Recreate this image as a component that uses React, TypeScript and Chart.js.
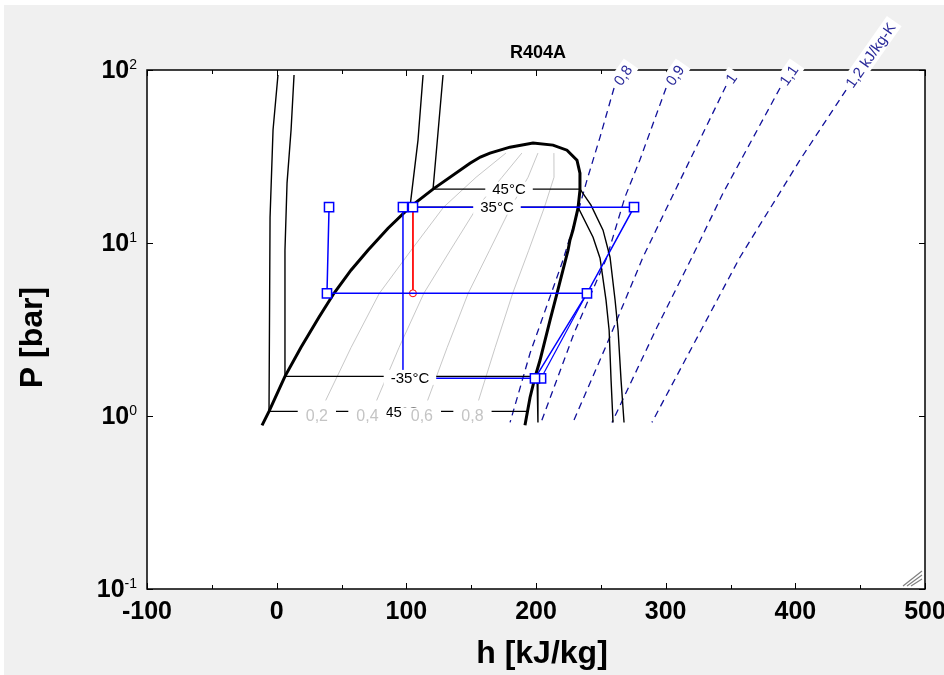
import { useEffect, useRef } from "react";
import { Chart, registerables } from "chart.js";

Chart.register(...registerables);

// ---------- data (h in kJ/kg, P in bar) ----------
const domeH = [-11.3, -5.9, 6.4, 18.8, 32.6, 44.2, 57.3, 70.4, 85.9, 102.8, 120.6, 149.1, 157.1, 164.5, 179.9, 197.7, 213.1, 223.9, 231.6, 233.9, 233.9, 232.4, 228.5, 226.2, 224.7, 216.2, 210.8, 203.1, 199.2, 195.4, 191.5];
const domeP = [0.883, 1.063, 1.695, 2.5, 3.72, 5.12, 6.96, 9.085, 12.18, 16.12, 20.48, 28.9, 31.4, 33.1, 35.8, 37.8, 36.8, 34.4, 30.1, 25.3, 20.2, 15.9, 11.86, 10.4, 9.08, 5.12, 3.57, 2.1, 1.67, 1.28, 0.883];

const tM45H = [1.0, -2.8, -5.1, -5.9, 193.3];
const tM45P = [93.6, 45.0, 14.1, 1.063, 1.063];
const tM35H = [13.4, 11.1, 8.0, 6.4, 6.4, 200.8, 201.5];
const tM35P = [93.6, 45.0, 22.2, 9.09, 1.695, 1.695, 0.918];
const t35H = [112.9, 109.0, 102.8, 232.4, 244.0, 249.4, 254.0, 256.4, 257.9, 259.4];
const t35P = [93.6, 39.35, 16.12, 16.12, 10.8, 8.17, 4.67, 3.13, 1.607, 0.918];
const t45H = [128.3, 124.4, 120.6, 234.0, 242.4, 251.7, 257.1, 261.0, 263.3, 265.6, 267.9];
const t45P = [93.6, 43.2, 20.48, 20.48, 16.55, 11.86, 8.275, 4.667, 3.13, 1.607, 0.918];

const isoLabels = ["-45°C", "-35°C", "35°C", "45°C"];
const isoLabelH = [94.7, 102.8, 169.9, 179.2];
const isoLabelP = [1.063, 1.672, 16.12, 20.48];

const qualityP = [1.23, 2.49, 5.12, 9.08, 16.1, 24, 33.1];
const q2H = [37.8, 57.4, 79.2, 103.7, 128.7, 153.8, 176.8];
const q4H = [77.1, 94.4, 113.5, 133.9, 154.6, 173.8, 189.1];
const q6H = [116.4, 131.5, 147.7, 164.2, 180.6, 193.9, 201.5];
const q8H = [155.7, 168.5, 182.0, 194.4, 206.5, 213.9, 213.8];
const qualityLabels = ["0,2", "0,4", "0,6", "0,8"];
const qualityLabelH = [31, 70, 112, 151];
const qualityLabelP = 1.0;

const s08H = [260.2, 258.6, 249.4, 239.3, 233.9, 226.2, 220.8, 204.4, 195.4, 180.0];
const s08P = [78.7, 71.6, 40.95, 23.1, 16.55, 10.8, 7.95, 3.574, 2.303, 0.918];
const s09H = [300.3, 280.1, 268.6, 254.7, 229.3, 203.9];
const s09P = [78.7, 30.2, 18.4, 8.275, 3.006, 0.918];
const s10H = [346.5, 304.8, 282.5, 254.9, 228.5];
const s10P = [80.8, 18.4, 8.275, 2.631, 0.918];
const s11H = [388.2, 344.2, 320.3, 293.3, 258.6];
const s11P = [78.7, 19.4, 8.275, 3.256, 0.918];
const s12H = [439.1, 403.6, 357.3, 289.4];
const s12P = [76.6, 30.2, 8.275, 0.918];
const entropyLabels = ["0,8", "0,9", "1", "1,1", "1,2 kJ/kg-K"];

const cycleH = [40.4, 38.8, 239.3, 275.6, 105.1, 97.4, 97.4, 199.2, 239.3];
const cycleP = [16.12, 5.12, 5.12, 16.12, 16.12, 16.12, 1.651, 1.651, 5.12];
const cycleMarked = [1, 1, 1, 1, 1, 1, 0, 1, 0];
const cycle2H = [203.9, 239.3];
const cycle2P = [1.651, 5.12];
const redH = [105.1, 105.1];
const redP = [16.12, 5.12];

const xTickValues = [-100, 0, 100, 200, 300, 400, 500];
const xTickLabels = ["-100", "0", "100", "200", "300", "400", "500"];
const yTickValues = [100, 10, 1, 0.1];
const yTickExp = ["2", "1", "0", "-1"];

const chartTitle = "R404A";
const xTitle = "h [kJ/kg]";
const yTitle = "P [bar]";

// ---------- helpers ----------
const FONT = '"Liberation Sans", Arial, Helvetica, sans-serif';
const pts = (hs: number[], ps: number[]) => hs.map((h, i) => ({ x: h, y: ps[i] }));

const lineDs = (hs: number[], ps: number[], color: string, width: number, extra: any = {}) => ({
  data: pts(hs, ps),
  showLine: true,
  borderColor: color,
  borderWidth: width,
  pointRadius: 0,
  fill: false,
  tension: 0,
  ...extra,
});

function boxText(ctx: CanvasRenderingContext2D, text: string, x: number, y: number, font: string, color: string, padX: number, h: number) {
  ctx.font = font;
  const w = ctx.measureText(text).width;
  ctx.fillStyle = "#ffffff";
  ctx.fillRect(x - w / 2 - padX, y - h / 2, w + 2 * padX, h);
  ctx.fillStyle = color;
  ctx.textAlign = "center";
  ctx.textBaseline = "middle";
  ctx.fillText(text, x, y + 1);
}

const overlay = {
  id: "overlay",
  beforeDraw(chart: any) {
    const { ctx, chartArea: a, width, height } = chart;
    ctx.save();
    ctx.fillStyle = "#f0f0f0";
    ctx.fillRect(0, 0, width, height);
    ctx.fillStyle = "#ffffff";
    ctx.fillRect(a.left, a.top, a.right - a.left, a.bottom - a.top);
    ctx.restore();
  },
  afterDatasetsDraw(chart: any) {
    const { ctx, chartArea: a, scales } = chart;
    const xs = scales.x;
    const ys = scales.y;
    ctx.save();

    // isotherm labels (-45 first so quality labels overlay it)
    isoLabels.forEach((t, i) => {
      boxText(ctx, t, xs.getPixelForValue(isoLabelH[i]), ys.getPixelForValue(isoLabelP[i]), `15px ${FONT}`, "#000000", 7, 15);
    });
    qualityLabels.forEach((t, i) => {
      boxText(ctx, t, xs.getPixelForValue(qualityLabelH[i]), ys.getPixelForValue(qualityLabelP), `16px ${FONT}`, "#c4c4c4", 8, 17);
    });

    // frame
    ctx.strokeStyle = "#000000";
    ctx.lineWidth = 1.5;
    ctx.strokeRect(a.left, a.top, a.right - a.left, a.bottom - a.top);

    // ticks
    ctx.lineWidth = 1;
    ctx.beginPath();
    for (let v = -100; v <= 500; v += 50) {
      const px = Math.round(xs.getPixelForValue(v)) + 0.5;
      const len = v % 100 === 0 ? 6 : 4;
      ctx.moveTo(px, a.bottom);
      ctx.lineTo(px, a.bottom - len);
      ctx.moveTo(px, a.top);
      ctx.lineTo(px, a.top + len);
    }
    yTickValues.forEach((v) => {
      const py = Math.round(ys.getPixelForValue(v)) + 0.5;
      ctx.moveTo(a.left, py);
      ctx.lineTo(a.left + 6, py);
      ctx.moveTo(a.right, py);
      ctx.lineTo(a.right - 6, py);
    });
    ctx.stroke();

    // entropy labels (rotated, white boxes)
    const sLines = [
      [s08H, s08P],
      [s09H, s09P],
      [s10H, s10P],
      [s11H, s11P],
      [s12H, s12P],
    ];
    sLines.forEach(([hs, ps], i) => {
      const px = xs.getPixelForValue(hs[0]);
      const py = ys.getPixelForValue(ps[0]);
      ctx.save();
      ctx.translate(px, py);
      ctx.rotate((-55 * Math.PI) / 180);
      ctx.font = `15px ${FONT}`;
      const w = ctx.measureText(entropyLabels[i]).width;
      ctx.fillStyle = "#ffffff";
      ctx.fillRect(1, -9, w + 8, 18);
      ctx.fillStyle = "#2a2a9a";
      ctx.textAlign = "left";
      ctx.textBaseline = "middle";
      ctx.fillText(entropyLabels[i], 5, 1);
      ctx.restore();
    });

    // x tick labels
    ctx.fillStyle = "#000000";
    ctx.font = `bold 25px ${FONT}`;
    ctx.textAlign = "center";
    ctx.textBaseline = "middle";
    xTickValues.forEach((v, i) => {
      ctx.fillText(xTickLabels[i], xs.getPixelForValue(v), a.bottom + 23);
    });

    // y tick labels with superscript
    yTickValues.forEach((v, i) => {
      const py = ys.getPixelForValue(v);
      ctx.font = `14px ${FONT}`;
      const sw = ctx.measureText(yTickExp[i]).width;
      const right = a.left - 10;
      ctx.textAlign = "left";
      ctx.textBaseline = "alphabetic";
      ctx.fillText(yTickExp[i], right - sw, py - 1);
      ctx.font = `bold 25px ${FONT}`;
      ctx.textAlign = "right";
      ctx.textBaseline = "middle";
      ctx.fillText("10", right - sw, py + 1);
    });

    // axis titles
    ctx.font = `bold 32px ${FONT}`;
    ctx.textAlign = "center";
    ctx.textBaseline = "middle";
    ctx.fillText(xTitle, (a.left + a.right) / 2 + 6, a.bottom + 65);
    ctx.save();
    ctx.translate(29, (a.top + a.bottom) / 2 + 8);
    ctx.rotate(-Math.PI / 2);
    ctx.fillText(yTitle, 0, 0);
    ctx.restore();

    // title
    ctx.font = `bold 18px ${FONT}`;
    ctx.fillText(chartTitle, (a.left + a.right) / 2 + 2, a.top - 17);

    // resize grip
    ctx.strokeStyle = "#808080";
    ctx.lineWidth = 1.2;
    ctx.beginPath();
    for (let k = 0; k < 3; k++) {
      const o = 4 + k * 4;
      ctx.moveTo(a.right - o - 10, a.bottom - 3);
      ctx.lineTo(a.right - 3, a.bottom - o - 10 + 4);
    }
    ctx.stroke();

    ctx.restore();
  },
};

export default function App() {
  const ref = useRef<HTMLCanvasElement>(null);
  useEffect(() => {
    if (!ref.current) return;
    const blue = "#0000ff";
    const navy = "#10109a";
    const dashed = { borderDash: [7, 5] };
    const chart = new Chart(ref.current, {
      type: "scatter",
      data: {
        datasets: [
          lineDs(cycleH, cycleP, blue, 1.5, {
            pointRadius: cycleMarked.map((m) => (m ? 6.5 : 0)),
            pointStyle: "rect",
            pointBackgroundColor: "#ffffff",
            pointBorderColor: blue,
            pointBorderWidth: 1.5,
          }),
          lineDs(cycle2H, cycle2P, blue, 1.2, {
            pointRadius: [6.5, 0],
            pointStyle: "rect",
            pointBackgroundColor: "#ffffff",
            pointBorderColor: blue,
            pointBorderWidth: 1.5,
          }),
          lineDs(redH, redP, "#ff0000", 1, {
            pointRadius: [0, 3.5],
            pointStyle: "circle",
            pointBackgroundColor: "#ffffff",
            pointBorderColor: "#ff0000",
            pointBorderWidth: 1,
          }),
          lineDs(domeH, domeP, "#000000", 3),
          lineDs(tM45H, tM45P, "#000000", 1.4),
          lineDs(tM35H, tM35P, "#000000", 1.4),
          lineDs(t35H, t35P, "#000000", 1.4),
          lineDs(t45H, t45P, "#000000", 1.4),
          lineDs(s08H, s08P, navy, 1.3, dashed),
          lineDs(s09H, s09P, navy, 1.3, dashed),
          lineDs(s10H, s10P, navy, 1.3, dashed),
          lineDs(s11H, s11P, navy, 1.3, dashed),
          lineDs(s12H, s12P, navy, 1.3, dashed),
          ...[q2H, q4H, q6H, q8H].map((q) => lineDs(q, qualityP, "#c8c8c8", 1)),
        ] as any,
      },
      options: {
        animation: false,
        responsive: false,
        devicePixelRatio: 1,
        layout: { autoPadding: false, padding: { left: 143, top: 65, right: 19, bottom: 86 } },
        plugins: { legend: { display: false }, tooltip: { enabled: false }, title: { display: false } },
        events: [],
        scales: {
          x: { type: "linear", min: -100, max: 500, display: false },
          y: { type: "logarithmic", min: 0.1, max: 100, display: false },
        },
      } as any,
      plugins: [overlay],
    });
    return () => chart.destroy();
  }, []);

  return (
    <div style={{ position: "fixed", left: 4, top: 5, width: 940, height: 670, background: "#f0f0f0" }}>
      <canvas ref={ref} width={940} height={670} style={{ display: "block", width: 940, height: 670 }} />
    </div>
  );
}
